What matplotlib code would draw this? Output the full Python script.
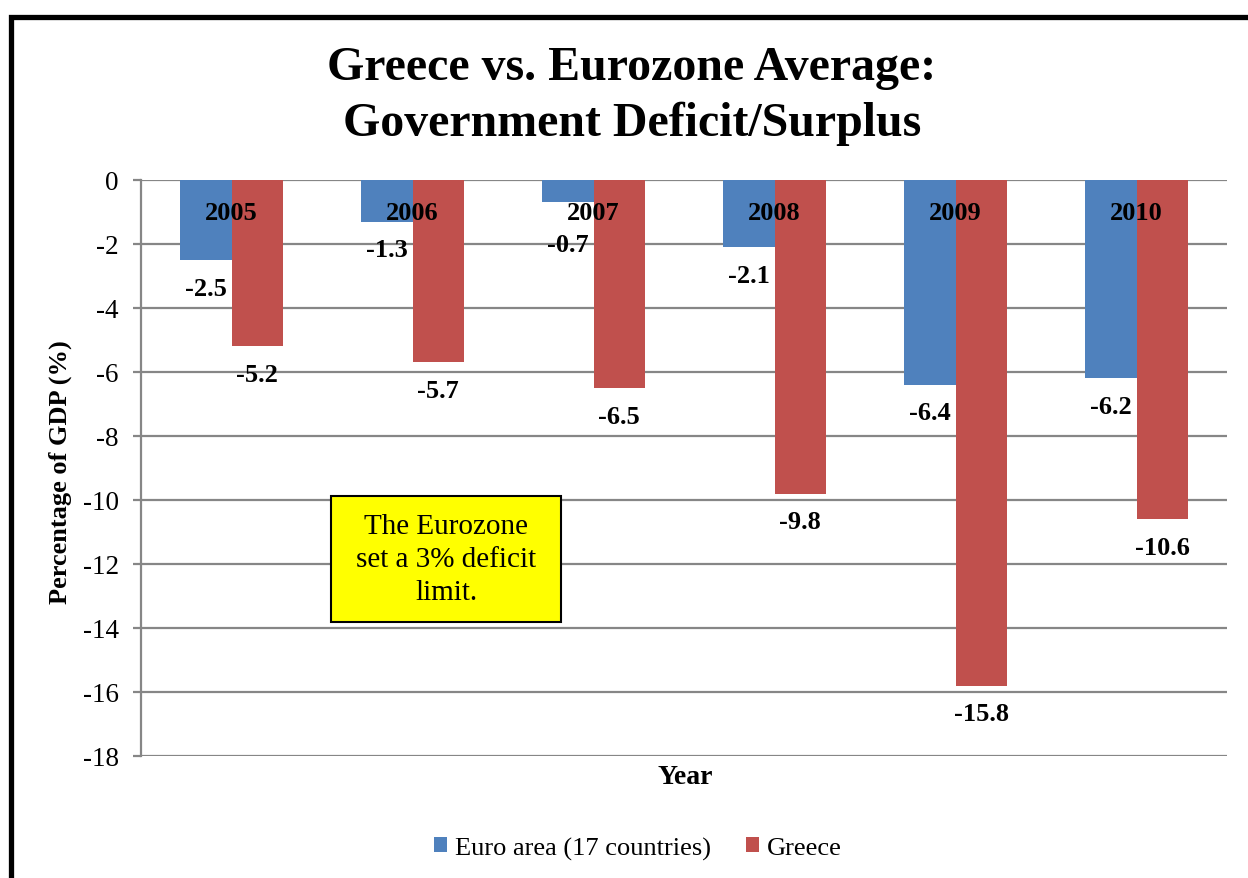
import matplotlib
matplotlib.use('Agg')
import matplotlib.pyplot as plt
from matplotlib.patches import Rectangle
import numpy as np

plt.rcParams['font.family'] = ['Liberation Serif', 'DejaVu Serif']

years = ['2005', '2006', '2007', '2008', '2009', '2010']
euro_area = [-2.5, -1.3, -0.7, -2.1, -6.4, -6.2]
greece = [-5.2, -5.7, -6.5, -9.8, -15.8, -10.6]
yticks = [0, -2, -4, -6, -8, -10, -12, -14, -16, -18]

blue = '#4F81BD'
red = '#C0504D'
grid = '#868686'

fig = plt.figure(figsize=(12.48, 8.79), dpi=100)
ax = fig.add_axes([141/1248, 1-757/879, (1227-141)/1248, (757-181)/879])

x = np.arange(len(years))
w = 0.282
b1 = ax.bar(x - w/2, euro_area, w, color=blue, label='Euro area (17 countries)', zorder=3)
b2 = ax.bar(x + w/2, greece, w, color=red, label='Greece', zorder=3)

# value labels below the bar ends, pushed clear of the year labels
for rects, vals in ((b1, euro_area), (b2, greece)):
    for r, v in zip(rects, vals):
        ax.text(r.get_x() + r.get_width()/2, min(v - 0.88, -2.0), f'{v:g}',
                ha='center', va='center', fontsize=19, fontweight='bold', zorder=5)

# category labels sit at the top, inside the plot
for xi, yr in zip(x, years):
    ax.text(xi, -1.0, yr, ha='center', va='center', fontsize=19,
            fontweight='bold', zorder=5)

ax.set_xlim(-0.5, len(years) - 0.5)
ax.set_ylim(-18, 0)
ax.set_yticks(yticks)
ax.set_yticklabels([str(t) for t in yticks], fontsize=19.5)
ax.set_xticks([])
ax.yaxis.grid(True, color=grid, linewidth=1.6, zorder=0)
ax.tick_params(axis='y', length=6, width=1.6, color=grid, pad=10)
for s in ['top', 'right', 'bottom']:
    ax.spines[s].set_visible(False)
ax.spines['left'].set_color(grid)
ax.spines['left'].set_linewidth(1.6)

fig.text(632/1248, 1-96/879, 'Greece vs. Eurozone Average:\nGovernment Deficit/Surplus',
         ha='center', va='center', fontsize=34.5, fontweight='bold', linespacing=1.32)
fig.text(60/1248, 1-472/879, 'Percentage of GDP (%)', rotation=90, ha='center',
         va='center', fontsize=19, fontweight='bold')
fig.text(685/1248, 1-778/879, 'Year', ha='center', va='center', fontsize=20,
         fontweight='bold')

# note box
fig.patches.append(Rectangle((331/1248, 1-623/879), 230/1248, 126/879, transform=fig.transFigure,
                             facecolor='#FFFF00', edgecolor='black', linewidth=1.5, zorder=6))
fig.text(446/1248, 1-560/879, 'The Eurozone\nset a 3% deficit\nlimit.',
         ha='center', va='center', fontsize=21, linespacing=1.33, zorder=7)

fig.legend(loc='center', bbox_to_anchor=(638/1248, 1-849/879), ncol=2, frameon=False,
           fontsize=19, handlelength=0.5, handleheight=0.5, handletextpad=0.3,
           columnspacing=1.3)

fig.patches.append(Rectangle((11/1248, -0.1), 1.2, 1.1 - 17.5/879, transform=fig.transFigure,
                             fill=False, edgecolor='black', linewidth=3.8, zorder=10))

fig.savefig('out.png', dpi=100)
